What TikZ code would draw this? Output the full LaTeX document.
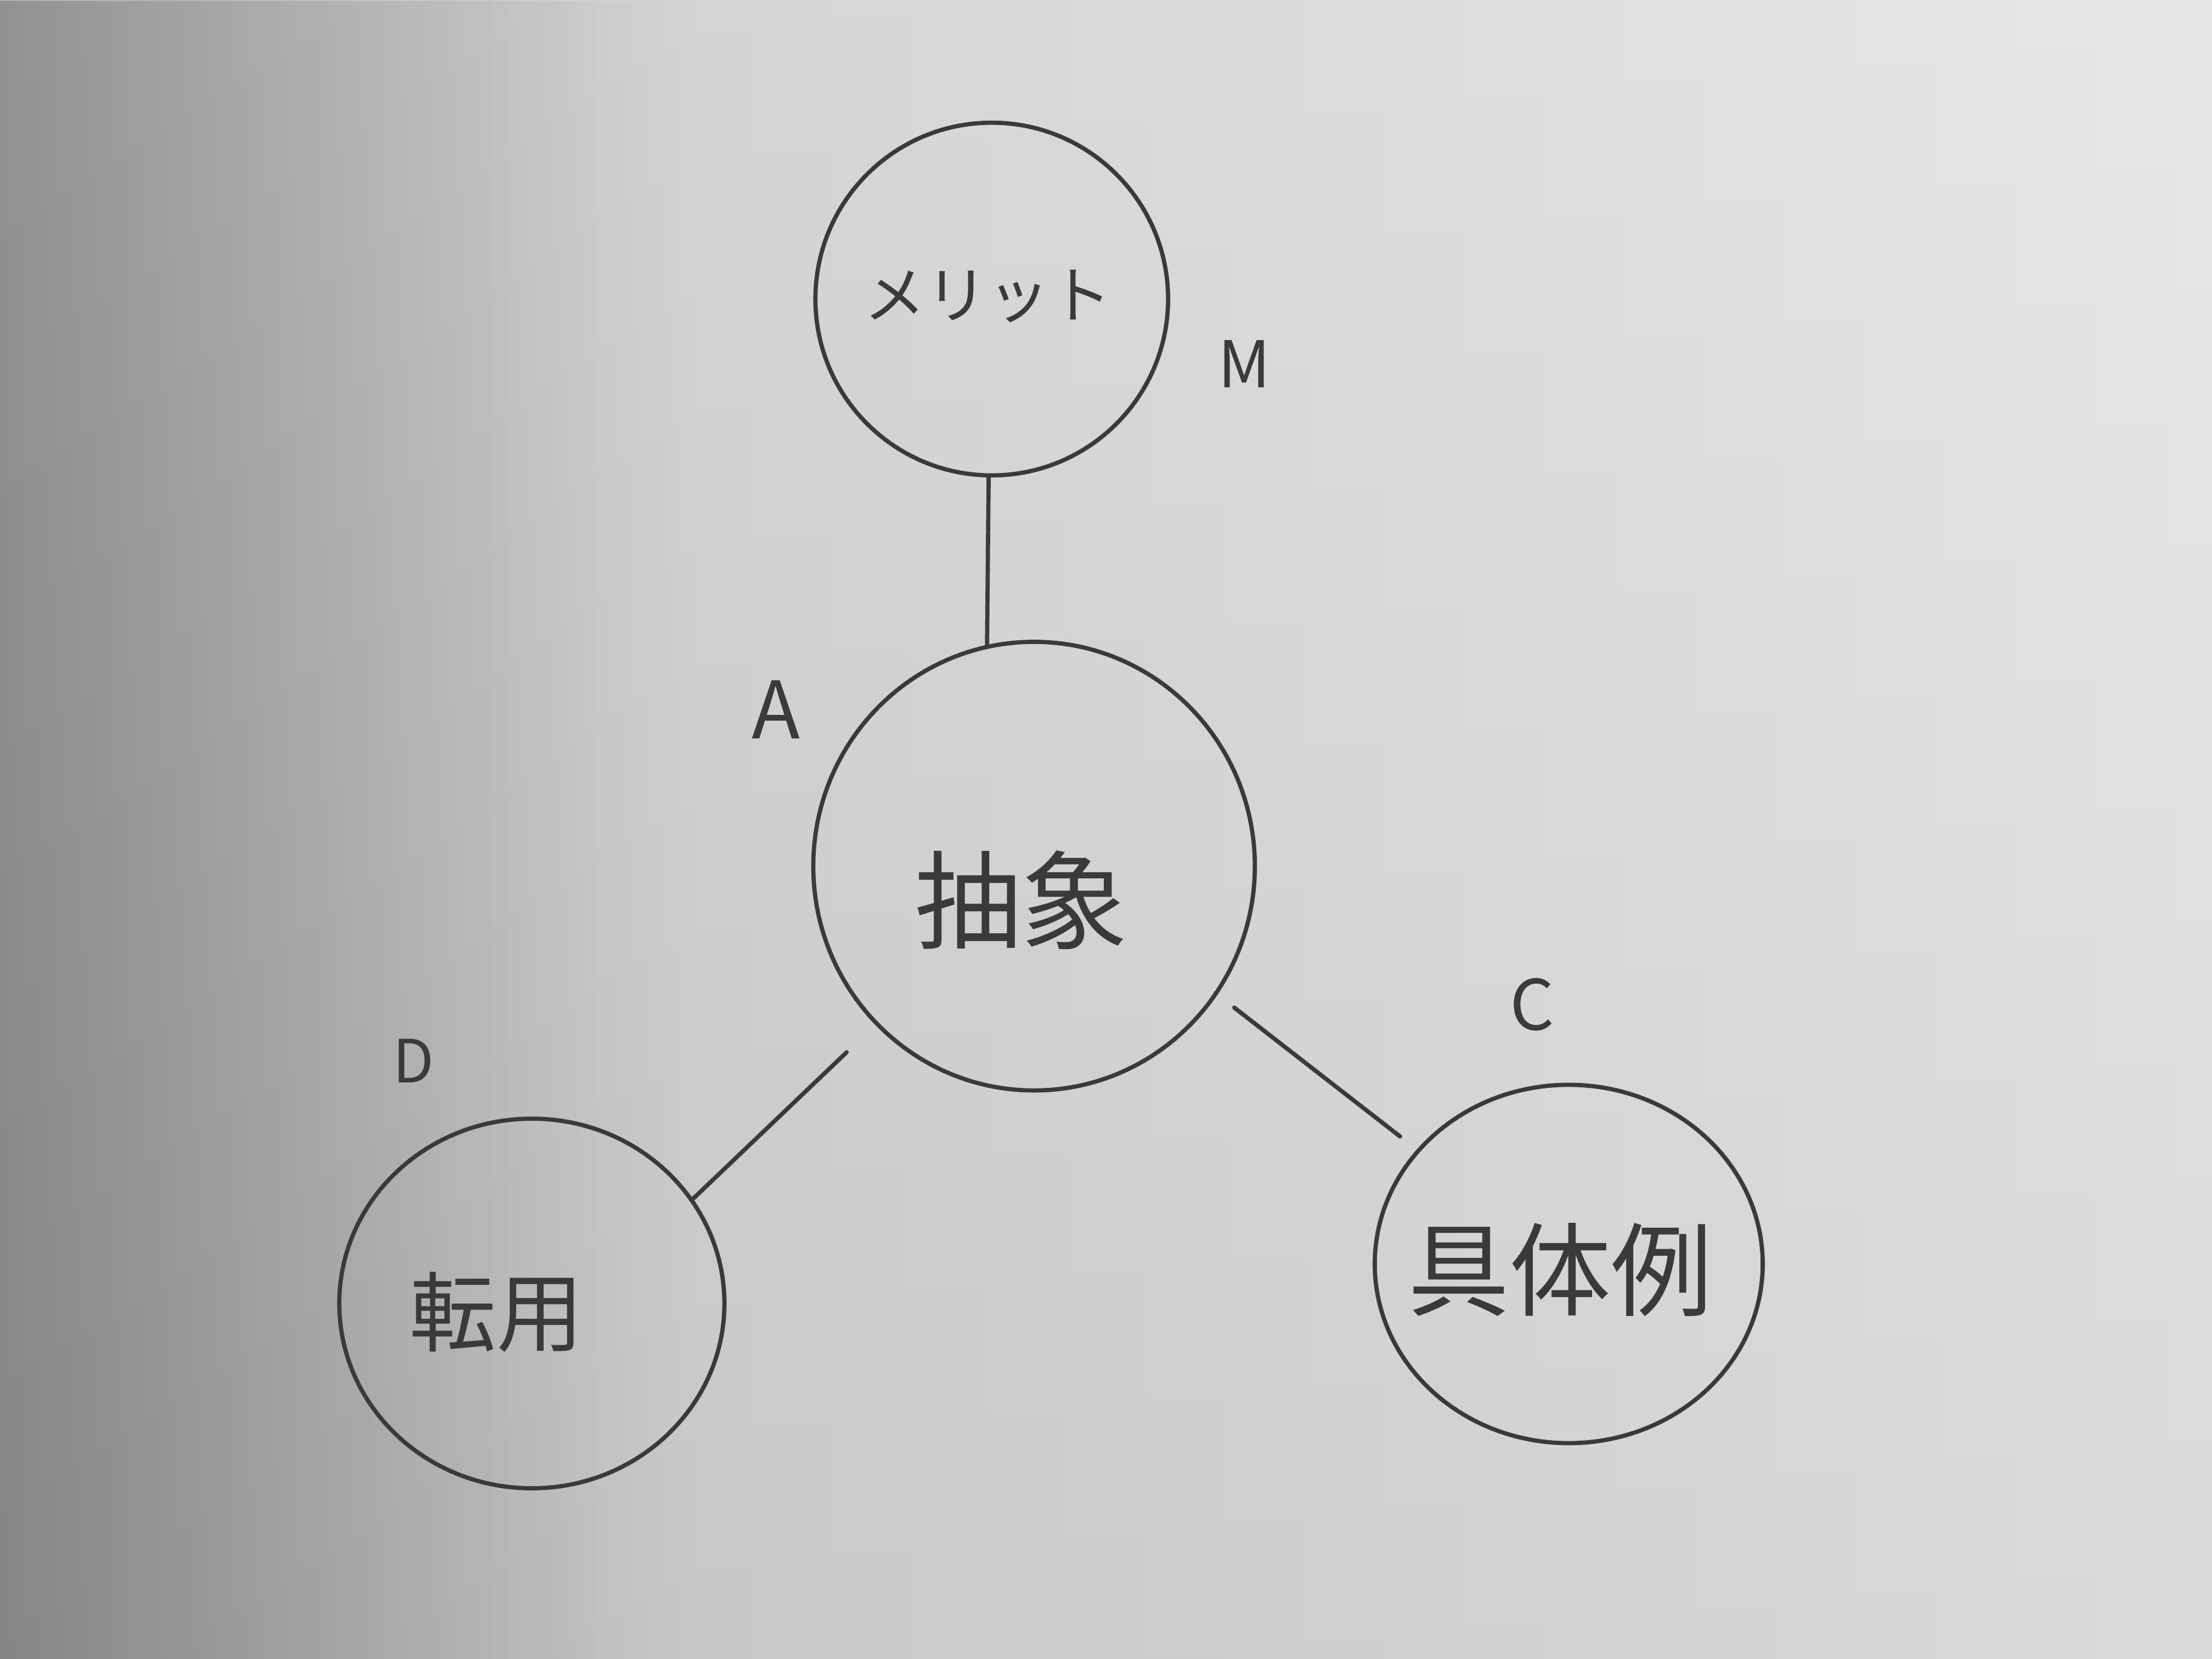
\documentclass[tikz,border=0pt]{standalone}
\usepackage{fontspec}
\newfontfamily\jp{Noto Sans CJK JP}
\usetikzlibrary{shapes.geometric,fadings}
\definecolor{ink}{HTML}{3A3A3A}
\definecolor{paperA}{HTML}{A8A8A8}
\definecolor{paperB}{HTML}{D2D2D2}
\definecolor{paperC}{HTML}{E6E6E6}
\begin{document}
\begin{tikzpicture}[x=1cm,y=1cm,
  pen/.style={draw=ink, line width=0.85pt, line cap=round},
  bubble/.style={pen, ellipse, inner sep=0pt},
  jtxt/.style={text=ink, font=\jp, inner sep=0pt},
  lbl/.style={text=ink, font=\jp, inner sep=0pt},
]
% paper background
\useasboundingbox (0,0) rectangle (15.68,11.76);
\shade[left color=paperA, right color=paperB] (0,0) rectangle (4.5,11.76);
\shade[left color=paperB, right color=paperC] (4.5,0) rectangle (15.68,11.76);
\fill[black, opacity=0.16, path fading=east] (0,0) rectangle (5.0,11.76);
\shade[top color=white, bottom color=black, opacity=0.05] (0,0) rectangle (15.68,11.76);

% circles
\node[bubble, minimum width=2.50cm, minimum height=2.50cm] (m) at (7.03,9.64) {};
\node[bubble, minimum width=3.13cm, minimum height=3.18cm] (a) at (7.33,5.62) {};
\node[bubble, minimum width=2.73cm, minimum height=2.62cm] (d) at (3.77,2.52) {};
\node[bubble, minimum width=2.75cm, minimum height=2.54cm] (c) at (11.12,2.80) {};

% texts in circles
\node[jtxt, font=\jp\fontsize{12.5}{12.5}\selectfont] (mt) at (7.00,9.66) {メリット};
\node[jtxt, font=\jp\fontsize{21.5}{21.5}\selectfont] (at) at (7.24,5.38) {抽象};
\node[jtxt, font=\jp\fontsize{17.5}{17.5}\selectfont] (dt) at (3.52,2.46) {転用};
\node[jtxt, font=\jp\fontsize{20.5}{20.5}\selectfont] (ct) at (11.06,2.76) {具体例};

% corner letters
\node[lbl, font=\jp\fontsize{13}{13}\selectfont] (ml) at (8.82,9.18) {M};
\node[lbl, font=\jp\fontsize{16}{16}\selectfont] (al) at (5.50,6.73) {A};
\node[lbl, font=\jp\fontsize{14}{14}\selectfont] (cl) at (10.86,4.64) {C};
\node[lbl, font=\jp\fontsize{12}{12}\selectfont] (dl) at (2.93,4.24) {D};

% connectors
\draw[pen] (m.269) -- (a.102);
\draw[pen, shorten <=0.28cm] (a.225) -- (d.33);
\draw[pen, shorten <=0.15cm, shorten >=0.15cm] (a.-35) -- (c.143);
\end{tikzpicture}
\end{document}
